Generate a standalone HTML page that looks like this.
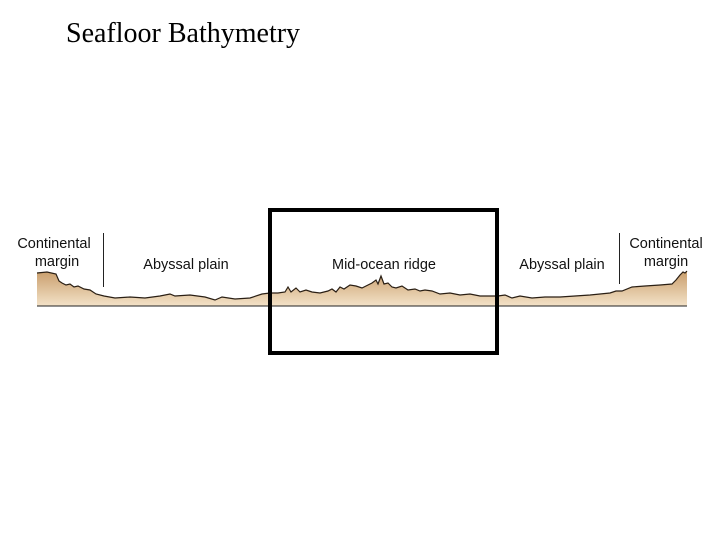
<!DOCTYPE html>
<html><head><style>
body{margin:0;background:#fff;width:720px;height:540px;overflow:hidden;position:relative}
.t{position:absolute;font-family:"Liberation Serif",serif;color:#000}
</style></head><body>
<div class="t" style="left:66px;top:18px;font-size:28px">Seafloor Bathymetry</div>
<svg width="720" height="540" style="position:absolute;left:0;top:0">
<defs><linearGradient id="g" x1="0" y1="0" x2="0" y2="1">
<stop offset="0" stop-color="#c99e6c"/><stop offset="1" stop-color="#f3e2c8"/></linearGradient></defs>
<path d="M37,306 L37,273 L47,272 L56,274 L59,281 L62,283 L66,285 L70,284 L74,287 L78,286 L84,289 L90,290 L96,294 L104,296 L115,298 L130,297 L145,298 L160,296 L170,294 L175,296 L190,295 L205,297 L215,300 L222,297 L235,299 L250,298 L262,294 L270,293 L278,293 L285,292 L288,287 L291,292 L296,288 L300,292 L306,290 L312,292 L320,293 L328,291 L332,289 L336,292 L340,287 L344,289 L350,285 L356,286 L362,288 L368,285 L372,283 L376,280 L378,284 L381,276 L384,284 L388,283 L392,287 L396,288 L402,286 L408,290 L415,289 L420,291 L425,290 L432,291 L440,294 L450,293 L460,295 L470,294 L480,296 L490,296 L498,296 L505,295 L512,298 L520,296 L532,298 L545,297 L560,297 L575,296 L590,295 L600,294 L610,293 L616,291 L622,291 L632,287 L645,286 L660,285 L672,284 L676,280 L680,275 L683,272 L685,273 L687,271 L687,306 Z" fill="url(#g)" stroke="none"/>
<path d="M37,273 L47,272 L56,274 L59,281 L62,283 L66,285 L70,284 L74,287 L78,286 L84,289 L90,290 L96,294 L104,296 L115,298 L130,297 L145,298 L160,296 L170,294 L175,296 L190,295 L205,297 L215,300 L222,297 L235,299 L250,298 L262,294 L270,293 L278,293 L285,292 L288,287 L291,292 L296,288 L300,292 L306,290 L312,292 L320,293 L328,291 L332,289 L336,292 L340,287 L344,289 L350,285 L356,286 L362,288 L368,285 L372,283 L376,280 L378,284 L381,276 L384,284 L388,283 L392,287 L396,288 L402,286 L408,290 L415,289 L420,291 L425,290 L432,291 L440,294 L450,293 L460,295 L470,294 L480,296 L490,296 L498,296 L505,295 L512,298 L520,296 L532,298 L545,297 L560,297 L575,296 L590,295 L600,294 L610,293 L616,291 L622,291 L632,287 L645,286 L660,285 L672,284 L676,280 L680,275 L683,272 L685,273 L687,271" fill="none" stroke="#2a1f14" stroke-width="1.2"/>
<line x1="37" y1="306" x2="687" y2="306" stroke="#222" stroke-width="1"/>
<line x1="103.5" y1="233" x2="103.5" y2="287" stroke="#222" stroke-width="1"/>
<line x1="619.5" y1="233" x2="619.5" y2="284" stroke="#222" stroke-width="1"/>
<rect x="270" y="210" width="227" height="143" fill="none" stroke="#000" stroke-width="4"/>
<g font-family="Liberation Sans, sans-serif" font-size="14.5" fill="#111" text-anchor="middle">
<text x="54" y="248">Continental</text><text x="57" y="266">margin</text>
<text x="186" y="269">Abyssal plain</text>
<text x="384" y="269">Mid-ocean ridge</text>
<text x="562" y="269">Abyssal plain</text>
<text x="666" y="248">Continental</text><text x="666" y="266">margin</text>
</g>
</svg>
</body></html>
